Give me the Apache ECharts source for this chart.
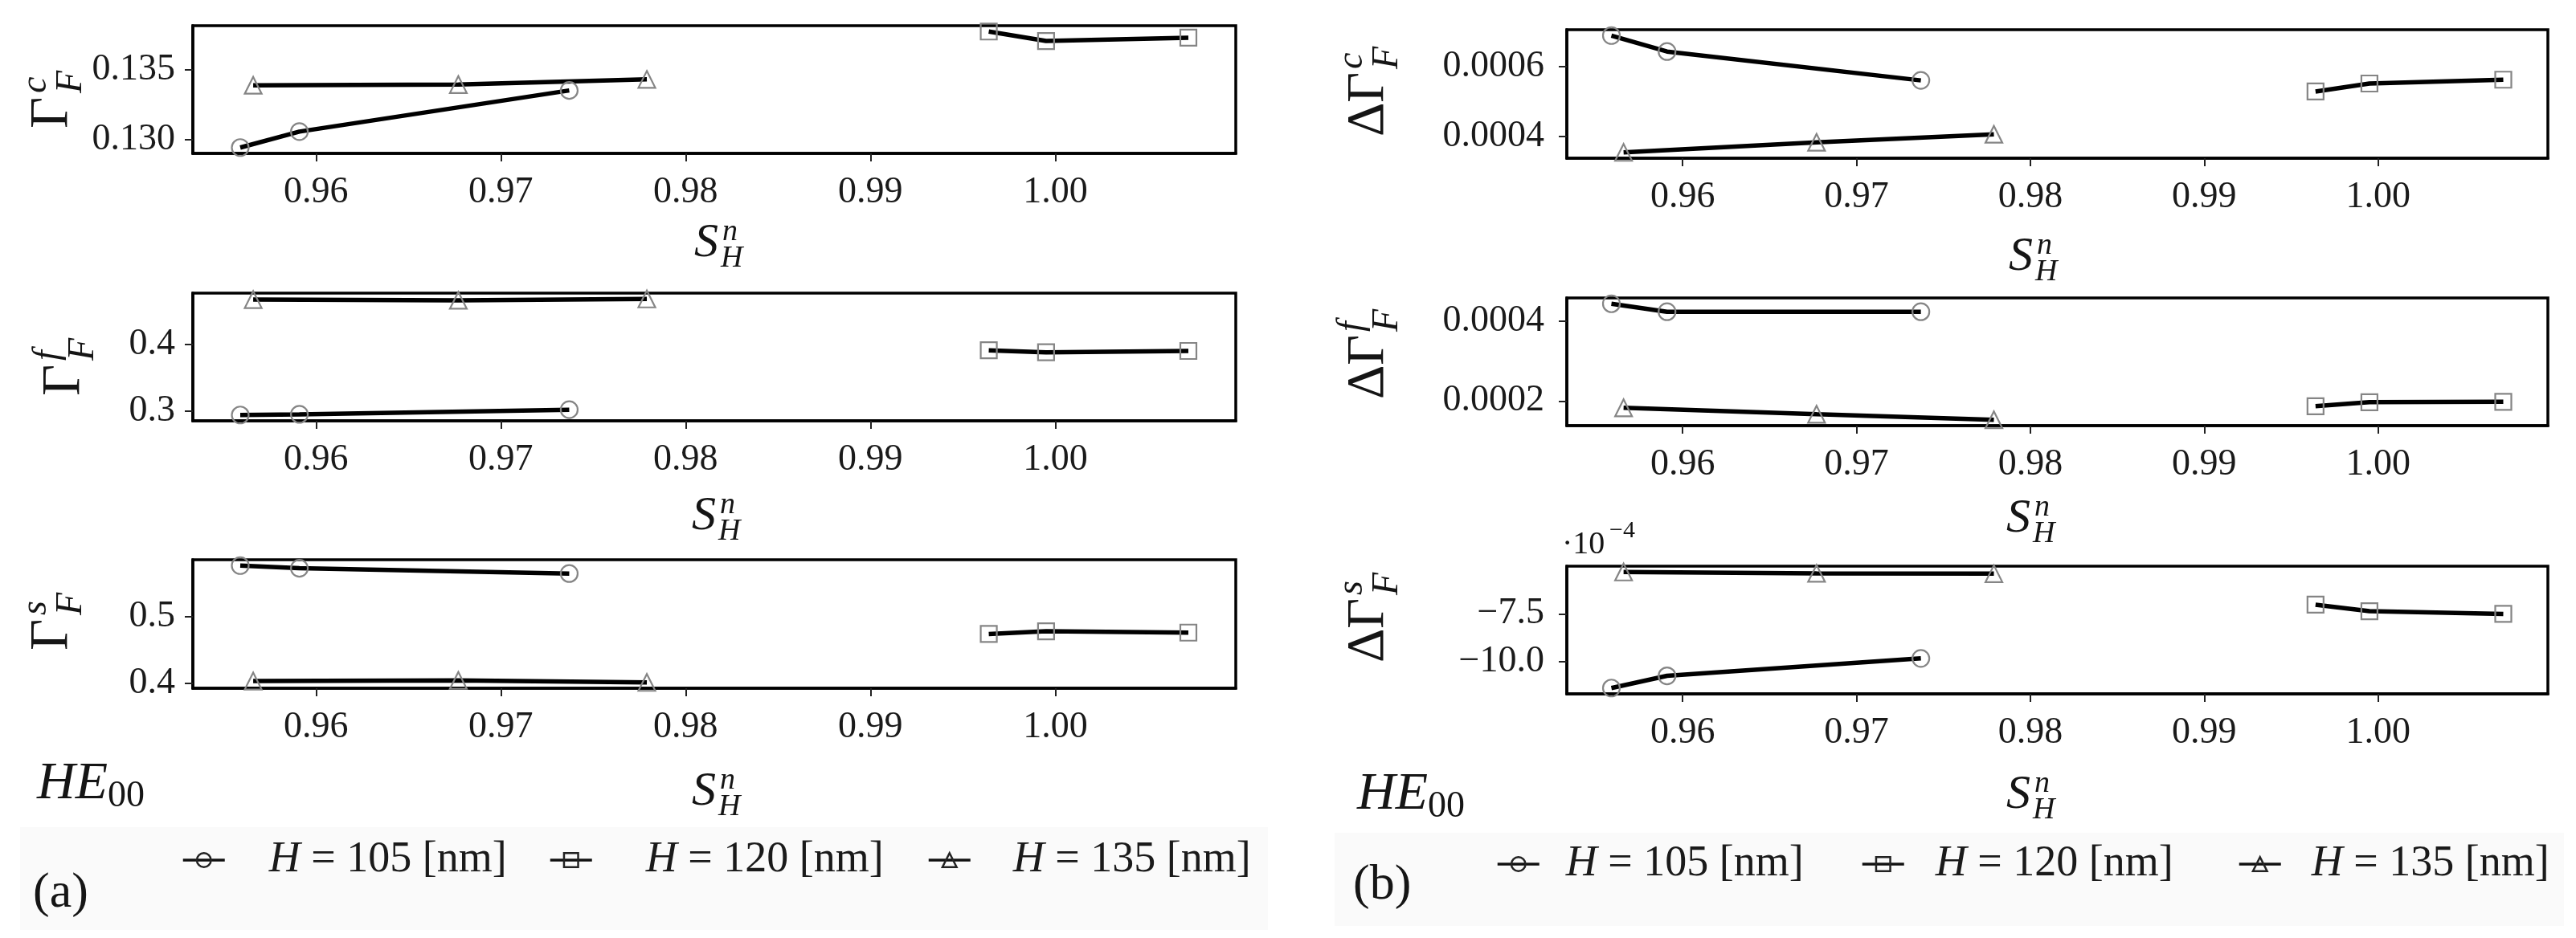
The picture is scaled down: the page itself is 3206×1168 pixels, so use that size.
<!DOCTYPE html>
<html><head><meta charset="utf-8">
<script src="https://cdn.jsdelivr.net/npm/echarts@6/dist/echarts.min.js"></script>
<style>html,body{margin:0;padding:0;background:#fff}#c{width:3206px;height:1168px}</style>
</head><body><div id="c"></div>
<script>
const FONT = '"Liberation Serif", "DejaVu Serif", serif';

// ---------- data ----------
const seriesNames = ['H = 105 [nm]', 'H = 120 [nm]', 'H = 135 [nm]'];
const seriesSymbols = ['circle', 'rect', 'triangle'];
// S_H^n (x) for each H
const sHn105 = [0.9559, 0.9591, 0.9737];
const sHn120 = [0.9964, 0.9995, 1.0072];
const sHn135 = [0.9566, 0.9677, 0.9779];
const xTickValues = [0.96, 0.97, 0.98, 0.99, 1.00];

// panel (a)
const gammaC105 = [0.12945, 0.13059, 0.13353];
const gammaC120 = [0.13774, 0.13706, 0.13730];
const gammaC135 = [0.13390, 0.13395, 0.13432];
const gammaF105 = [0.294, 0.295, 0.302];
const gammaF120 = [0.391, 0.388, 0.390];
const gammaF135 = [0.467, 0.466, 0.468];
const gammaS105 = [0.577, 0.573, 0.565];
const gammaS120 = [0.474, 0.478, 0.476];
const gammaS135 = [0.403, 0.404, 0.401];
// panel (b)
const dGammaC105 = [0.000690, 0.000644, 0.000561];
const dGammaC120 = [0.000529, 0.000552, 0.000563];
const dGammaC135 = [0.000354, 0.000383, 0.000406];
const dGammaF105 = [0.000443, 0.000423, 0.000423];
const dGammaF120 = [0.000187, 0.000197, 0.000198];
const dGammaF135 = [0.000183, 0.000167, 0.000153];
const dGammaS105 = [-11.38e-4, -10.74e-4, -9.83e-4];
const dGammaS120 = [-7.02e-4, -7.36e-4, -7.50e-4];
const dGammaS135 = [-5.31e-4, -5.38e-4, -5.40e-4];

// tick labels
const yTicksGammaC = [0.130, 0.135];
const yTicksGammaF = [0.3, 0.4];
const yTicksGammaS = [0.4, 0.5];
const yTicksDGammaC = [0.0004, 0.0006];
const yTicksDGammaF = [0.0002, 0.0004];
const yTicksDGammaS = [-10.0e-4, -7.5e-4];

// ---------- layout ----------
const xs = [sHn105, sHn120, sHn135];
const plots = [
  {grid:{left:240, top:32, width:1298, height:159}, ys:[gammaC105,gammaC120,gammaC135], ticks:yTicksGammaC, fmt:v=>v.toFixed(3), margin:22},
  {grid:{left:240, top:365, width:1298, height:159}, ys:[gammaF105,gammaF120,gammaF135], ticks:yTicksGammaF, fmt:v=>v.toFixed(1), margin:22},
  {grid:{left:240, top:697, width:1298, height:160}, ys:[gammaS105,gammaS120,gammaS135], ticks:yTicksGammaS, fmt:v=>v.toFixed(1), margin:22},
  {grid:{left:1950, top:37, width:1221, height:160}, ys:[dGammaC105,dGammaC120,dGammaC135], ticks:yTicksDGammaC, fmt:v=>v.toFixed(4), margin:28},
  {grid:{left:1950, top:371, width:1221, height:159}, ys:[dGammaF105,dGammaF120,dGammaF135], ticks:yTicksDGammaF, fmt:v=>v.toFixed(4), margin:28},
  {grid:{left:1950, top:705, width:1221, height:159}, ys:[dGammaS105,dGammaS120,dGammaS135], ticks:yTicksDGammaS, fmt:v=>(v/1e-4).toFixed(1).replace('-', '\u2212'), margin:28}
];

function padRange(arrs) {
  const all = [].concat(...arrs);
  const mn = Math.min(...all), mx = Math.max(...all);
  const r = mx - mn;
  return [mn - 0.05 * r, mx + 0.05 * r];
}
const xRange = padRange(xs);

const grids = [], xAxes = [], yAxes = [], series = [];
plots.forEach((p, i) => {
  grids.push(Object.assign({show:true, borderColor:'#000', borderWidth:3.5, backgroundColor:'#fff'}, p.grid));
  xAxes.push({
    type:'value', gridIndex:i, min:xRange[0], max:xRange[1],
    axisLine:{show:true, onZero:false, lineStyle:{color:'#000', width:3.5}},
    axisTick:{show:true, length:10, lineStyle:{color:'#222', width:2}, customValues:xTickValues},
    axisLabel:{show:true, customValues:xTickValues, formatter:v=>v.toFixed(2), fontFamily:FONT, fontSize:46, color:'#1a1a1a', margin:26},
    splitLine:{show:false}
  });
  const yr = padRange(p.ys);
  yAxes.push({
    type:'value', gridIndex:i, min:yr[0], max:yr[1],
    axisLine:{show:true, onZero:false, lineStyle:{color:'#000', width:3.5}},
    axisTick:{show:true, length:10, lineStyle:{color:'#222', width:2}, customValues:p.ticks},
    axisLabel:{show:true, customValues:p.ticks, formatter:p.fmt, fontFamily:FONT, fontSize:46, color:'#1a1a1a', margin:p.margin},
    splitLine:{show:false}
  });
  for (let h = 0; h < 3; h++) {
    series.push({
      type:'line', name:seriesNames[h], xAxisIndex:i, yAxisIndex:i,
      data: xs[h].map((x, k) => [x, p.ys[h][k]]),
      symbol: seriesSymbols[h], symbolSize: h === 1 ? 20 : 21, showSymbol:true,
      lineStyle:{color:'#000', width:5.5},
      itemStyle:{color:'rgba(255,255,255,0)', borderColor:'#858585', borderWidth:2.2},
      silent:true, animation:false, z:3
    });
  }
});

// ---------- legends ----------
const legendPos = [
  {x:226, y:1077, pad:50}, {x:683, y:1077, pad:62}, {x:1154, y:1077, pad:48},
  {x:1862, y:1082, pad:28}, {x:2316, y:1082, pad:34}, {x:2785, y:1082, pad:33}
];
const legends = legendPos.map((lp, j) => ({
  data:[seriesNames[j % 3]], left:lp.x, top:lp.y - 33, padding:0,
  itemWidth:52, itemHeight:22, selectedMode:false,
  itemStyle:{color:'rgba(255,255,255,0)', borderColor:'#222', borderWidth:2.5},
  lineStyle:{color:'#111', width:3.5},
  formatter: n => '{i|H}' + n.slice(1),
  textStyle:{fontFamily:FONT, fontSize:54, color:'#1a1a1a', padding:[0,0,0,lp.pad],
    rich:{i:{fontFamily:FONT, fontSize:54, fontStyle:'italic', color:'#1a1a1a'}}}
}));

// ---------- text helpers ----------
function T(text, x, baseline, size, italic, extra) {
  return Object.assign({type:'text', silent:true, style:{
    text, x, y: baseline + 0.216 * size,
    font: (italic ? 'italic ' : '') + size + 'px ' + FONT,
    fill:'#151515', textAlign:'left', textVerticalAlign:'bottom'
  }}, extra || {});
}
function sLabel(left, base) {
  return {type:'group', children:[
    T('S', left, base, 60, true),
    T('n', left + 35, base - 20, 38, true),
    T('H', left + 33, base + 13, 38, true)
  ]};
}
function yLabelA(x, y, sup) {
  return {type:'group', x, y, rotation:Math.PI/2, children:[
    T('\u0393', 0, 0, 68, false),
    T(sup, 44, -26, 46, true),
    T('F', 44, 18, 46, true)
  ]};
}
function yLabelB(x, y, sup) {
  return {type:'group', x, y, rotation:Math.PI/2, children:[
    T('\u0394', 0, 0, 66, false),
    T('\u0393', 42, 0, 66, false),
    T(sup, 84, -26, 46, true),
    T('F', 84, 18, 46, true)
  ]};
}

const graphics = [
  {type:'rect', z:-10, silent:true, shape:{x:25, y:1030, width:1553, height:128}, style:{fill:'#fafafa'}},
  {type:'rect', z:-10, silent:true, shape:{x:1661, y:1037, width:1530, height:116}, style:{fill:'#fafafa'}},
  sLabel(864, 320), sLabel(861, 660), sLabel(861, 1003),
  sLabel(2500, 337), sLabel(2497, 663), sLabel(2497, 1007),
  yLabelA(84, 160, 'c'), yLabelA(99, 493, 'f'), yLabelA(84, 810, 's'),
  yLabelB(1722, 170, 'c'), yLabelB(1722, 497, 'f'), yLabelB(1722, 825, 's'),
  T('\u00b710', 1944, 690, 40, false), T('\u22124', 2003, 670, 30, false),
  T('HE', 46, 995, 66, true), T('00', 134, 1005, 46, false),
  T('HE', 1689, 1008, 66, true), T('00', 1777, 1018, 46, false),
  T('(a)', 41, 1130, 62, false), T('(b)', 1684, 1120, 62, false)
];

const chart = echarts.init(document.getElementById('c'), null, {renderer:'canvas'});
chart.setOption({
  animation:false, backgroundColor:'#fff',
  grid:grids, xAxis:xAxes, yAxis:yAxes, series,
  legend:legends, graphic:{elements:graphics}
});
</script></body></html>
